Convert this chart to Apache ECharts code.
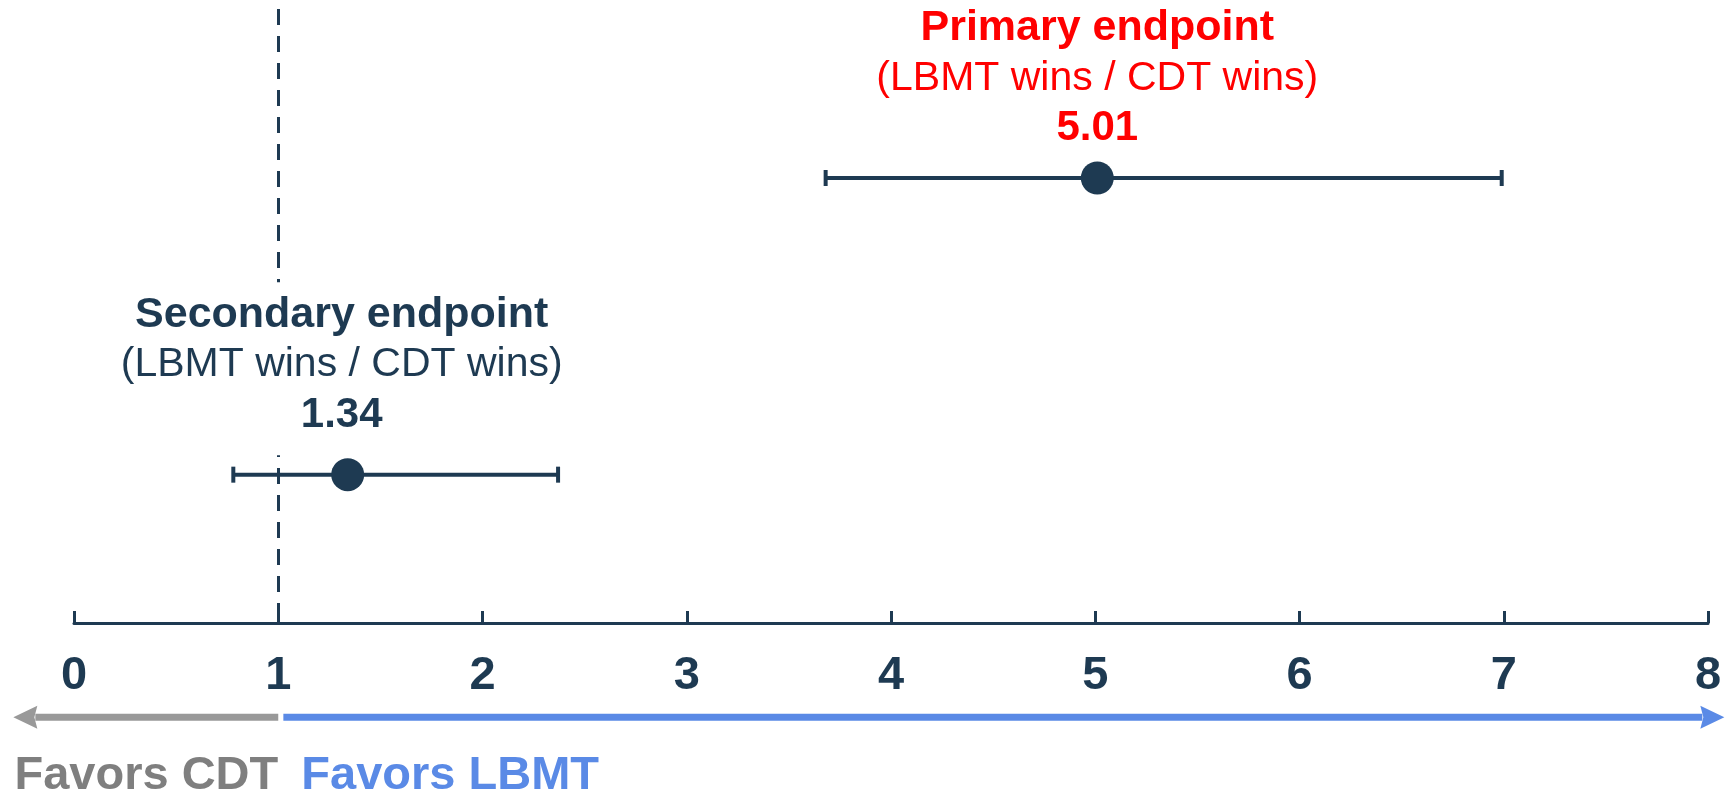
<!DOCTYPE html>
<html>
<head>
<meta charset="utf-8">
<title>Endpoints</title>
<script src="https://cdn.jsdelivr.net/npm/echarts@6/dist/echarts.min.js"></script>
<style>
  html, body { margin: 0; padding: 0; background: #fff; }
  #chart { width: 1725px; height: 799px; }
</style>
</head>
<body>
<div id="chart"></div>
<script>
// ---- data ----
var xTicks = [0, 1, 2, 3, 4, 5, 6, 7, 8]
var endpointNames = ['Primary endpoint', 'Secondary endpoint']
var endpointSub = ['(LBMT wins / CDT wins)', '(LBMT wins / CDT wins)']
var estimates = [5.01, 1.34]
var ciLow = [3.68, 0.78]
var ciHigh = [6.99, 2.37]
var rowPos = [3, 1] // vertical row of each endpoint
var labelColors = ['#ff0000', '#1e3a52']
var labelGap = [8, 3]
var labelPad = [[0, 0, 0, 0], [8, 0, 15, 0]]
var labelShift = [0, -6]
var refValue = 1

// arrows under the axis: [from, to]
var arrowFrom = [1, 1.025]
var arrowTo = [-0.297, 8.08]
var arrowText = ['Favors CDT', 'Favors LBMT']
var arrowColors = ['#999999', '#5a8ae6']
var arrowTextColors = ['#7f7f7f', '#5a8ae6']
var arrowRow = -0.635

var navy = '#1e3a52'
var font = '"Liberation Sans", Arial, sans-serif'

const chart = echarts.init(document.getElementById('chart'))

const pointData = estimates.map((v, i) => ({
  value: [v, rowPos[i]],
  label: {
    distance: labelGap[i],
    offset: [labelShift[i], 0],
    padding: labelPad[i],
    backgroundColor: '#fff',
    formatter: '{a|' + endpointNames[i] + '}\n{b|' + endpointSub[i] + '}\n{c|' + v.toFixed(2) + '}',
    rich: {
      a: { fontSize: 43, fontWeight: 'bold', color: labelColors[i], lineHeight: 50, fontFamily: font },
      b: { fontSize: 41, color: labelColors[i], lineHeight: 50, fontFamily: font },
      c: { fontSize: 42, fontWeight: 'bold', color: labelColors[i], lineHeight: 50, fontFamily: font }
    }
  }
}))

const ciData = estimates.map((v, i) => [ciLow[i], ciHigh[i], rowPos[i]])
const arrowData = arrowFrom.map((f, i) => [f, arrowTo[i], arrowRow])

const option = {
  animation: false,
  grid: { left: 74, right: 17, top: 0, bottom: 176, outerBoundsMode: 'none' },
  xAxis: {
    type: 'value',
    min: xTicks[0],
    max: xTicks[xTicks.length - 1],
    interval: 1,
    axisLine: { show: true, lineStyle: { color: navy, width: 3 } },
    axisTick: { show: true, inside: true, length: 12, lineStyle: { color: navy, width: 3 } },
    axisLabel: { margin: 30, fontSize: 47, fontWeight: 'bold', color: navy, fontFamily: font },
    splitLine: { show: false }
  },
  yAxis: {
    type: 'value',
    min: 0,
    max: 4.2,
    show: false,
    splitLine: { show: false }
  },
  series: [
    {
      // CI bars
      type: 'custom',
      clip: false,
      z: 3,
      renderItem: function (params, api) {
        const a = api.coord([api.value(0), api.value(2)])
        const b = api.coord([api.value(1), api.value(2)])
        const s = { stroke: navy, lineWidth: 4 }
        return {
          type: 'group',
          children: [
            { type: 'line', shape: { x1: a[0], y1: a[1], x2: b[0], y2: b[1] }, style: s },
            { type: 'line', shape: { x1: a[0], y1: a[1] - 8, x2: a[0], y2: a[1] + 8 }, style: s },
            { type: 'line', shape: { x1: b[0], y1: b[1] - 8, x2: b[0], y2: b[1] + 8 }, style: s }
          ]
        }
      },
      data: ciData
    },
    {
      type: 'scatter',
      z: 4,
      symbolSize: 33,
      itemStyle: { color: navy, opacity: 1 },
      label: { show: true, position: 'top', align: 'center' },
      emphasis: { disabled: true },
      markLine: {
        silent: true,
        z: 1,
        symbol: 'none',
        label: { show: false },
        lineStyle: { color: navy, width: 3, type: [16, 11], opacity: 1 },
        data: [[{ coord: [refValue, 4.14] }, { coord: [refValue, 0] }]]
      },
      data: pointData
    },
    {
      // favors arrows
      type: 'custom',
      clip: false,
      renderItem: function (params, api) {
        const i = params.dataIndex
        const p0 = api.coord([api.value(0), api.value(2)])
        const p1 = api.coord([api.value(1), api.value(2)])
        const dir = p1[0] > p0[0] ? 1 : -1
        const headLen = 24
        const baseX = p1[0] - dir * headLen
        const textX = dir > 0 ? p0[0] + 18 : p0[0]
        return {
          type: 'group',
          children: [
            {
              type: 'line',
              shape: { x1: p0[0], y1: p0[1], x2: baseX + dir * 2, y2: p1[1] },
              style: { stroke: arrowColors[i], lineWidth: 7 }
            },
            {
              type: 'polygon',
              shape: { points: [[p1[0], p1[1]], [baseX, p1[1] - 11.5], [baseX + dir * 3, p1[1]], [baseX, p1[1] + 11.5]] },
              style: { fill: arrowColors[i] }
            },
            {
              type: 'text',
              x: textX,
              y: 776,
              style: {
                text: arrowText[i],
                fill: arrowTextColors[i],
                font: 'bold 47px ' + font,
                align: dir > 0 ? 'left' : 'right',
                verticalAlign: 'middle'
              }
            }
          ]
        }
      },
      data: arrowData
    }
  ]
}

chart.setOption(option)
</script>
</body>
</html>
